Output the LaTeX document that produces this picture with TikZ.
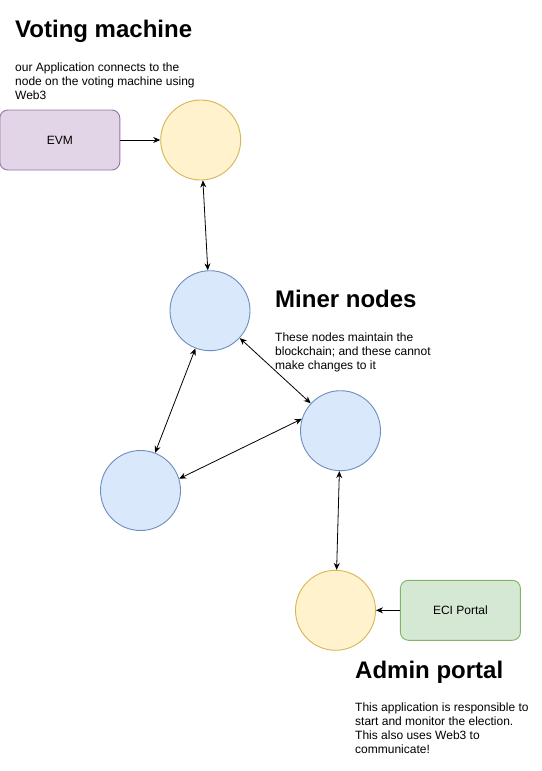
\documentclass[tikz,border=0pt]{standalone}
\usepackage{fontspec}
\setmainfont{Liberation Sans}
\usepackage{xcolor}
\usetikzlibrary{
	shapes.geometric,
	arrows.meta,
	positioning
}
\definecolor{clientfill}{HTML}{FFF2CC}
\definecolor{clientdraw}{HTML}{D6B656}
\definecolor{minerfill}{HTML}{DAE8FC}
\definecolor{minerdraw}{HTML}{6C8EBF}
\definecolor{evmfill}{HTML}{E1D5E7}
\definecolor{evmdraw}{HTML}{9673A6}
\definecolor{ecifill}{HTML}{D5E8D4}
\definecolor{ecidraw}{HTML}{82B366}

\begin{document}
\begin{tikzpicture}[
				x=1pt, y=-1pt,
				peer/.style={
					circle, draw, line width=0.9pt,
					minimum size=80pt, inner sep=0pt
				},
				clientpeer/.style={
					peer, fill=clientfill, draw=clientdraw
				},
				minerpeer/.style={
					peer, fill=minerfill, draw=minerdraw
				},
				appbox/.style={
					rectangle, draw, rounded corners=8pt, line width=0.9pt,
					minimum width=120pt, minimum height=60pt,
					align=center, font=\fontsize{12}{14}\selectfont
				},
				heading/.style={
					anchor=base west, inner sep=0pt,
					font=\fontsize{24}{28}\selectfont\bfseries
				},
				note/.style={
					anchor=north west, inner sep=0pt, align=left,
					font=\fontsize{12}{14}\selectfont
				},
				arrow/.style={-{Stealth[length=7pt,width=6pt]}, line width=0.8pt, black},
				twoway/.style={{Stealth[length=7pt,width=6pt]}-{Stealth[length=7pt,width=6pt]}, line width=0.8pt, black}
				]
				\useasboundingbox (0,0) rectangle (541,771);
				
				% Voting machine
				\node[heading] (vmtitle) at (15,37) {Voting machine};
				\node[note] (vmnote) at (15,62.3) {our Application connects to the\\node on the voting machine using\\Web3};
				\node[clientpeer] (vm) at (200.7,140) {};
				\node[appbox, fill=evmfill, draw=evmdraw, left=40pt of vm] (evm) {EVM};
				
				% miner nodes
				\node[minerpeer] (mtop) at (210,310.7) {};
				\node[minerpeer] (mright) at (340.5,430.7) {};
				\node[minerpeer] (mleft) at (140.5,490.5) {};
				\node[heading] (minertitle) at (275,307) {Miner nodes};
				\node[note] (minernote) at (275,332.3) {These nodes maintain the\\blockchain; and these cannot\\make changes to it};
				
				% Admin portal
				\node[clientpeer] (admin) at (335.5,610.3) {};
				\node[appbox, fill=ecifill, draw=ecidraw, right=24pt of admin] (eci) {ECI Portal};
				\node[heading] (admintitle) at (355,678) {Admin portal};
				\node[note] (adminnote) at (355,702.3) {This application is responsible to\\start and monitor the election.\\This also uses Web3 to\\communicate!};
				
				% connections
				\draw[arrow] (evm) -- (vm);
				\draw[twoway] (vm) -- (mtop);
				\draw[twoway] (mtop) -- (mright);
				\draw[twoway] (mtop) -- (mleft);
				\draw[twoway] (mleft.17) -- (mright.163);
				\draw[twoway] (mright) -- (admin);
				\draw[arrow] (eci) -- (admin);
			\end{tikzpicture}
\end{document}
